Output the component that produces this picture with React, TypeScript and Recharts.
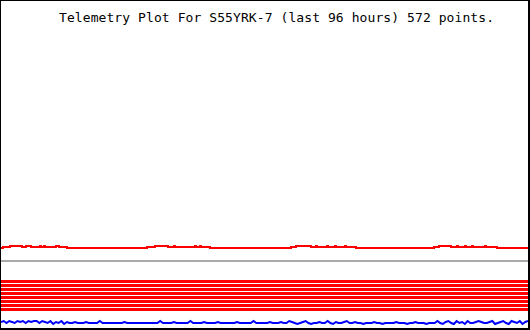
import React from 'react';
import { LineChart, Line, XAxis, YAxis } from 'recharts';

// 96 hour window, x axis is hours into it
const HOURS = 96;
const TITLE = 'Telemetry Plot For S55YRK-7 (last 96 hours) 572 points.';

// analog channel (red): value changes, hour -> value
const redHours = [
  0, 0.36, 1.64, 3.83, 4.55, 5.46, 7.1, 7.29, 7.83, 8.01, 10.02, 10.57, 12.02,
  26.6, 28.05, 30.42, 31.51, 31.69, 35.34, 35.52, 36.25, 36.43, 38.07,
  52.83, 53.74, 56.47, 57.38, 57.56, 59.39, 59.57, 60.84, 61.02, 62.66, 62.85, 64.67,
  78.88, 79.79, 81.97, 83.06, 83.25, 84.52, 84.7, 85.8, 85.98, 88.17, 88.35, 90.35, 96,
];
const redValues = [
  80, 81, 82, 81, 82, 81, 82, 81, 82, 81, 82, 81, 80,
  81, 82, 81, 82, 81, 82, 81, 82, 81, 80,
  81, 82, 81, 82, 81, 82, 81, 82, 81, 82, 81, 80,
  81, 82, 81, 82, 81, 82, 81, 82, 81, 82, 81, 80, 80,
];

// grey channel, flat the whole time
const greyValue = 67;

// digital bits, all constant
const bitLevels = [46.5, 42.5, 38.5, 34.5, 30.5, 26.5, 22.5, 18.5];

// blue channel, one sample every half hour
const blueStep = 0.5;
const blueValues = [
  6, 7, 5, 7, 6, 5, 7, 6, 7, 5,
  7, 6, 7, 7, 5, 7, 6, 5, 7, 4,
  6, 5, 7, 4, 6, 5, 5, 6, 5, 5,
  5, 6, 5, 5, 5, 5, 7, 5, 5, 5,
  5, 5, 5, 5, 5, 6, 5, 5, 5, 5,
  5, 5, 5, 5, 5, 5, 5, 5, 7, 5,
  5, 5, 5, 6, 5, 5, 5, 5, 5, 7,
  5, 5, 5, 5, 6, 5, 5, 5, 5, 6,
  5, 5, 5, 5, 5, 5, 6, 5, 5, 5,
  5, 5, 7, 5, 5, 5, 5, 5, 6, 5,
  5, 5, 6, 5, 5, 7, 6, 5, 4, 5,
  6, 7, 5, 4, 5, 5, 6, 5, 5, 7,
  5, 4, 6, 5, 5, 6, 7, 5, 5, 6,
  5, 5, 4, 5, 5, 5, 6, 5, 5, 4,
  5, 5, 5, 5, 6, 5, 5, 5, 4, 5,
  5, 6, 5, 5, 5, 4, 5, 5, 5, 7,
  5, 4, 6, 7, 5, 4, 7, 5, 6, 4,
  7, 5, 5, 6, 7, 6, 5, 5, 6, 7,
  4, 5, 6, 7, 5, 4, 7, 6, 5, 7,
  4, 6, 7,
];

const redData = redHours.map((t, i) => ({ t, v: redValues[i] }));
const greyData = [{ t: 0, v: greyValue }, { t: HOURS, v: greyValue }];
const blueData = blueValues.map((v, i) => ({ t: i * blueStep, v }));

export default function App() {
  return (
    <div
      style={{
        position: 'absolute',
        left: 0,
        top: 0,
        width: 530,
        height: 330,
        boxSizing: 'border-box',
        borderStyle: 'solid',
        borderColor: '#000',
        borderWidth: '1px 2px 2px 1px',
        background: '#fff',
      }}
    >
      <LineChart width={527} height={327} margin={{ top: 0, right: 0, bottom: 0, left: 0 }}>
        <XAxis type="number" dataKey="t" domain={[0, HOURS]} hide allowDataOverflow />
        <YAxis type="number" domain={[0, 327]} hide allowDataOverflow />
        <Line
          data={greyData}
          dataKey="v"
          stroke="#aaaaaa"
          strokeWidth={2}
          dot={false}
          isAnimationActive={false}
        />
        {bitLevels.map((lvl, i) => (
          <Line
            key={i}
            data={[{ t: 0, v: lvl }, { t: HOURS, v: lvl }]}
            dataKey="v"
            stroke="#ff0000"
            strokeWidth={3}
            dot={false}
            isAnimationActive={false}
          />
        ))}
        <Line
          data={redData}
          dataKey="v"
          type="stepAfter"
          stroke="#ff0000"
          strokeWidth={2}
          dot={false}
          isAnimationActive={false}
        />
        <Line
          data={blueData}
          dataKey="v"
          stroke="#0000ff"
          strokeWidth={2}
          dot={false}
          isAnimationActive={false}
        />
      </LineChart>
      <svg
        width={527}
        height={30}
        style={{ position: 'absolute', left: 0, top: 0, overflow: 'visible' }}
      >
        <text
          x={58}
          y={21}
          textLength={435}
          lengthAdjust="spacing"
          fontFamily='"DejaVu Sans Mono", monospace'
          fontSize={13}
          fill="#000"
          style={{ whiteSpace: 'pre' }}
        >
          {TITLE}
        </text>
      </svg>
    </div>
  );
}
